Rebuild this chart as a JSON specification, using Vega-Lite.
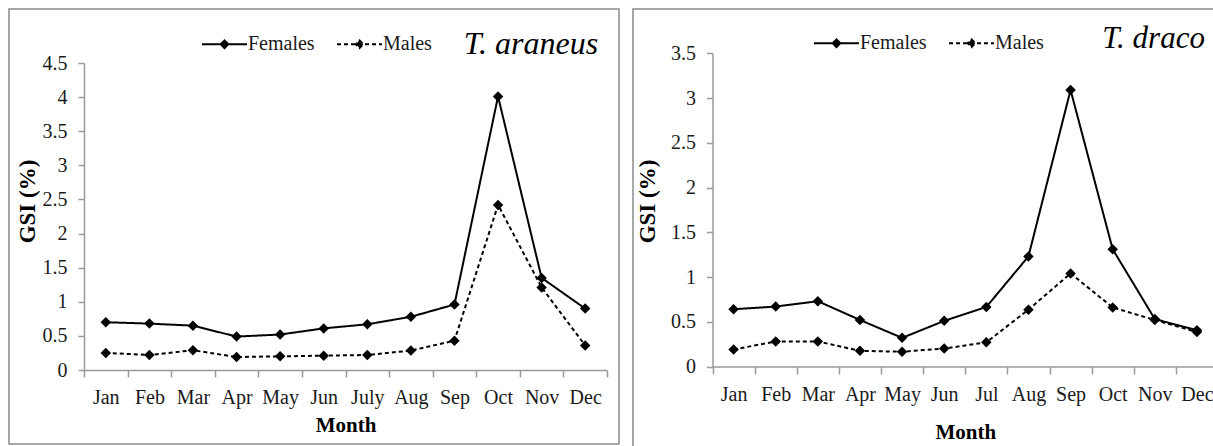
{
  "$schema": "https://vega.github.io/schema/vega-lite/v6.json",
  "padding": {"left": 8, "top": 8, "right": 0, "bottom": 0},
  "spacing": 12,
  "background": "white",
  "config": {
    "view": {"stroke": "#8c8c8c", "strokeWidth": 1.5},
    "font": "Liberation Serif",
    "style": {
      "guide-label": {"font": "Liberation Serif"},
      "guide-title": {"font": "Liberation Serif"}
    },
    "axis": {
      "labelFont": "Liberation Serif", "titleFont": "Liberation Serif",
      "labelColor": "#1a1a1a", "titleColor": "#000000",
      "domainColor": "#9a9a9a", "tickColor": "#9a9a9a",
      "grid": false, "labelFontSize": 20, "titleFontSize": 21, "titleFontWeight": "bold",
      "domainWidth": 1.5, "tickWidth": 1.5
    },
    "legend": {
      "labelFont": "Liberation Serif", "labelFontSize": 20, "labelColor": "#1a1a1a",
      "symbolType": "M-1,0L1,0M0,-0.17L0.17,0L0,0.17L-0.17,0Z",
      "symbolSize": 2025, "symbolStrokeWidth": 2,
      "symbolFillColor": "black", "symbolStrokeColor": "black",
      "labelOffset": 0, "columnPadding": 18, "padding": 0
    }
  },
  "resolve": {
    "scale": {"x": "independent", "y": "independent", "strokeDash": "independent"},
    "legend": {"strokeDash": "independent"}
  },
  "hconcat": [
    {
      "width": 610, "height": 435,
      "layer": [
        {
          "data": {"values": [
            {"month": "Jan", "sex": "Females", "gsi": 0.70}, {"month": "Feb", "sex": "Females", "gsi": 0.68},
            {"month": "Mar", "sex": "Females", "gsi": 0.65}, {"month": "Apr", "sex": "Females", "gsi": 0.49},
            {"month": "May", "sex": "Females", "gsi": 0.52}, {"month": "Jun", "sex": "Females", "gsi": 0.61},
            {"month": "July", "sex": "Females", "gsi": 0.67}, {"month": "Aug", "sex": "Females", "gsi": 0.78},
            {"month": "Sep", "sex": "Females", "gsi": 0.96}, {"month": "Oct", "sex": "Females", "gsi": 4.01},
            {"month": "Nov", "sex": "Females", "gsi": 1.35}, {"month": "Dec", "sex": "Females", "gsi": 0.90},
            {"month": "Jan", "sex": "Males", "gsi": 0.25}, {"month": "Feb", "sex": "Males", "gsi": 0.22},
            {"month": "Mar", "sex": "Males", "gsi": 0.29}, {"month": "Apr", "sex": "Males", "gsi": 0.19},
            {"month": "May", "sex": "Males", "gsi": 0.20}, {"month": "Jun", "sex": "Males", "gsi": 0.21},
            {"month": "July", "sex": "Males", "gsi": 0.22}, {"month": "Aug", "sex": "Males", "gsi": 0.285},
            {"month": "Sep", "sex": "Males", "gsi": 0.43}, {"month": "Oct", "sex": "Males", "gsi": 2.42},
            {"month": "Nov", "sex": "Males", "gsi": 1.21}, {"month": "Dec", "sex": "Males", "gsi": 0.36}
          ]},
          "mark": {"type": "line", "color": "black", "strokeWidth": 2, "point": {"shape": "diamond", "filled": true, "size": 110, "color": "black"}},
          "encoding": {
            "x": {"field": "month", "type": "ordinal",
              "sort": ["Jan","Feb","Mar","Apr","May","Jun","July","Aug","Sep","Oct","Nov","Dec"],
              "scale": {"type": "band", "range": [75, 598], "paddingInner": 0, "paddingOuter": 0},
              "axis": {"title": "Month", "labelFont": "Liberation Serif", "titleFont": "Liberation Serif", "labelAngle": 0, "offset": -74, "tickBand": "extent", "tickSize": 7, "labelPadding": 10, "titlePadding": 7}},
            "y": {"field": "gsi", "type": "quantitative",
              "scale": {"domain": [0, 4.5], "range": [361, 54], "nice": false, "zero": true},
              "axis": {"title": "GSI (%)", "labelFont": "Liberation Serif", "titleFont": "Liberation Serif", "titleFontSize": 23, "values": [0,0.5,1,1.5,2,2.5,3,3.5,4,4.5], "format": "~g", "offset": -75, "tickSize": 6, "labelPadding": 11, "titlePadding": 3, "titleY": 192}},
            "strokeDash": {"field": "sex", "type": "nominal",
              "scale": {"domain": ["Females", "Males"], "range": [[1, 0], [4, 3]]},
              "legend": {"title": null, "orient": "none", "legendX": 192, "legendY": 11.5, "direction": "horizontal", "labelFont": "Liberation Serif",
                "encode": {"symbols": {"update": {"stroke": {"value": "black"}, "strokeWidth": {"value": 2}, "fill": {"value": "black"}}}}}}
          }
        },
        {
          "data": {"values": [{"label": "T. araneus"}]},
          "mark": {"type": "text", "align": "right", "baseline": "alphabetic", "dx": 13, "font": "Liberation Serif", "fontSize": 32, "fontStyle": "italic", "color": "#000000"},
          "encoding": {
            "x": {"datum": "Dec", "type": "ordinal"},
            "y": {"datum": 4.632, "type": "quantitative"},
            "text": {"field": "label", "type": "nominal"}
          }
        }
      ]
    },
    {
      "width": 597, "height": 445,
      "layer": [
        {
          "data": {"values": [
            {"month": "Jan", "sex": "Females", "gsi": 0.64}, {"month": "Feb", "sex": "Females", "gsi": 0.67},
            {"month": "Mar", "sex": "Females", "gsi": 0.73}, {"month": "Apr", "sex": "Females", "gsi": 0.52},
            {"month": "May", "sex": "Females", "gsi": 0.32}, {"month": "Jun", "sex": "Females", "gsi": 0.51},
            {"month": "Jul", "sex": "Females", "gsi": 0.665}, {"month": "Aug", "sex": "Females", "gsi": 1.23},
            {"month": "Sep", "sex": "Females", "gsi": 3.09}, {"month": "Oct", "sex": "Females", "gsi": 1.31},
            {"month": "Nov", "sex": "Females", "gsi": 0.53}, {"month": "Dec", "sex": "Females", "gsi": 0.405},
            {"month": "Jan", "sex": "Males", "gsi": 0.19}, {"month": "Feb", "sex": "Males", "gsi": 0.28},
            {"month": "Mar", "sex": "Males", "gsi": 0.28}, {"month": "Apr", "sex": "Males", "gsi": 0.175},
            {"month": "May", "sex": "Males", "gsi": 0.165}, {"month": "Jun", "sex": "Males", "gsi": 0.20},
            {"month": "Jul", "sex": "Males", "gsi": 0.27}, {"month": "Aug", "sex": "Males", "gsi": 0.635},
            {"month": "Sep", "sex": "Males", "gsi": 1.04}, {"month": "Oct", "sex": "Males", "gsi": 0.66},
            {"month": "Nov", "sex": "Males", "gsi": 0.52}, {"month": "Dec", "sex": "Males", "gsi": 0.385}
          ]},
          "mark": {"type": "line", "color": "black", "strokeWidth": 2, "point": {"shape": "diamond", "filled": true, "size": 110, "color": "black"}},
          "encoding": {
            "x": {"field": "month", "type": "ordinal",
              "sort": ["Jan","Feb","Mar","Apr","May","Jun","Jul","Aug","Sep","Oct","Nov","Dec"],
              "scale": {"type": "band", "range": [79.5, 585], "paddingInner": 0, "paddingOuter": 0},
              "axis": {"title": "Month", "labelFont": "Liberation Serif", "titleFont": "Liberation Serif", "labelAngle": 0, "offset": -87.5, "tickBand": "extent", "tickSize": 7.5, "labelPadding": 10, "titlePadding": 17}},
            "y": {"field": "gsi", "type": "quantitative",
              "scale": {"domain": [0, 3.5], "range": [357.5, 44.3], "nice": false, "zero": true},
              "axis": {"title": "GSI (%)", "labelFont": "Liberation Serif", "titleFont": "Liberation Serif", "titleFontSize": 23, "values": [0,0.5,1,1.5,2,2.5,3,3.5], "format": "~g", "offset": -79.5, "tickSize": 6, "labelPadding": 11, "titlePadding": 11, "titleY": 192}},
            "strokeDash": {"field": "sex", "type": "nominal",
              "scale": {"domain": ["Females", "Males"], "range": [[1, 0], [4, 3]]},
              "legend": {"title": null, "orient": "none", "legendX": 180, "legendY": 10.5, "direction": "horizontal", "labelFont": "Liberation Serif",
                "encode": {"symbols": {"update": {"stroke": {"value": "black"}, "strokeWidth": {"value": 2}, "fill": {"value": "black"}}}}}}
          }
        },
        {
          "data": {"values": [{"label": "T. draco"}]},
          "mark": {"type": "text", "align": "right", "baseline": "alphabetic", "dx": 8, "font": "Liberation Serif", "fontSize": 31, "fontStyle": "italic", "color": "#000000"},
          "encoding": {
            "x": {"datum": "Dec", "type": "ordinal"},
            "y": {"datum": 3.562, "type": "quantitative"},
            "text": {"field": "label", "type": "nominal"}
          }
        }
      ]
    }
  ]
}
